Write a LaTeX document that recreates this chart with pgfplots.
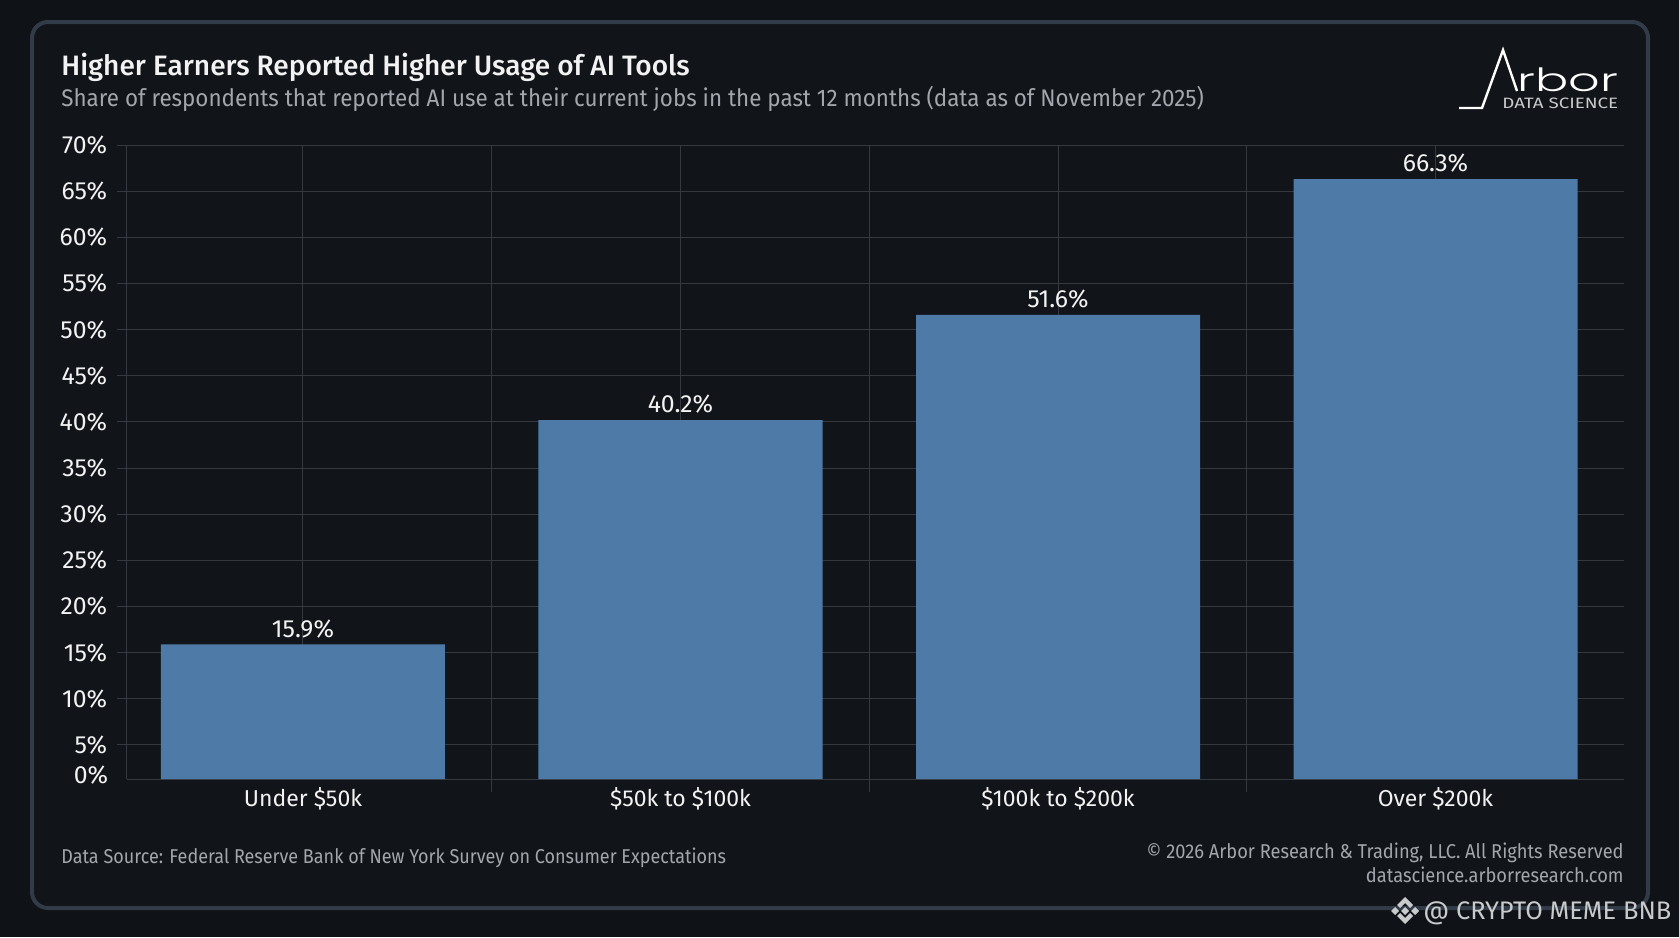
\documentclass[border=0pt]{standalone}
\usepackage{fontspec}
\usepackage{pgfplots}
\pgfplotsset{compat=1.18}
\setmainfont{Fira Sans}
\newfontfamily\titlefont{Fira Sans Medium}
\newfontfamily\subfont[FakeStretch=0.933]{Fira Sans}
\newfontfamily\footfont[FakeStretch=0.9]{Fira Sans}
\newfontfamily\footright[FakeStretch=0.913]{Fira Sans}
\newfontfamily\logofont[FakeStretch=1.54]{Poppins Light}
\newfontfamily\logosmall[FakeStretch=1.25]{Fira Sans}
\definecolor{bgout}{HTML}{0F1216}
\definecolor{bgin}{HTML}{111418}
\definecolor{panelc}{HTML}{323C48}
\definecolor{gridc}{HTML}{35383E}
\definecolor{barc}{HTML}{4E7AA8}
\definecolor{txt}{HTML}{F2F2F2}
\definecolor{subc}{HTML}{A3A7AD}
\definecolor{wmark}{HTML}{C9CACC}
\begin{document}
\begin{tikzpicture}[px/.style={x=0.5pt,y=-0.5pt}]
\begin{scope}[px]
  \useasboundingbox (0,0) rectangle (1679,937);
  \fill[bgout] (0,0) rectangle (1679,937);
  \draw[panelc,fill=bgin,line width=2pt,rounded corners=8pt] (32,22) rectangle (1648,908);
\end{scope}
\begin{axis}[
    at={(63.25pt,-389.5pt)},
    anchor=south west,
    scale only axis,
    width=748.5pt,
    height=317pt,
    ybar,
    bar width=142pt,
    xmin=-0.4675, xmax=3.498,
    ymin=1.3, ymax=70,
    axis x line=bottom,
    axis y line=left,
    axis line style={-,gridc,line width=0.5pt},
    xtick={0,1,2,3},
    xticklabels={Under \$50k, \$50k to \$100k, \$100k to \$200k, Over \$200k},
    minor xtick={0.5,1.5,2.5},
    ytick={5,10,...,70},
    yticklabels={5\%,10\%,15\%,20\%,25\%,30\%,35\%,40\%,45\%,50\%,55\%,60\%,65\%,70\%},
    extra y ticks={1.3},
    extra y tick labels={\raisebox{4pt}{0\%}},
    extra y tick style={major tick length=0pt,grid=none,yticklabel style={xshift=-4.5pt}},
    grid=both,
    grid style={gridc,line width=0.5pt},
    minor grid style={gridc,line width=0.5pt},
    major grid style={gridc,line width=0.5pt},
    tick style={gridc,line width=0.5pt},
    major x tick style={draw=none},
    major tick length=5pt,
    minor tick length=6.5pt,
    tick align=outside,
    every tick label/.append style={text=txt,font=\fontsize{12.4}{14}\selectfont},
    yticklabel style={inner sep=0pt,xshift=-4.5pt},
    xticklabel style={inner sep=0pt,yshift=0.7pt,font=\fontsize{11.5}{14}\selectfont},
    nodes near coords={\pgfmathprintnumber[fixed,fixed zerofill,precision=1,/pgf/number format/assume math mode=true]{\pgfplotspointmeta}\%},
    every node near coord/.append style={text=txt,font=\fontsize{12.4}{14}\selectfont,inner sep=0pt,yshift=3pt},
]
\addplot[fill=barc,draw=none,bar shift=0pt] coordinates {
  (0,15.9)
  (1,40.2)
  (2,51.6)
  (3,66.3)
};
\end{axis}
\begin{scope}[px]
  \node[anchor=base west,inner sep=0,text=txt,font=\titlefont\fontsize{14.03}{16}\selectfont] at (61,75) {Higher Earners Reported Higher Usage of AI Tools};
  \node[anchor=base west,inner sep=0,text=subc,font=\subfont\fontsize{12}{14}\selectfont] at (61,106) {Share of respondents that reported AI use at their current jobs in the past 12 months (data as of November 2025)};
  \node[anchor=base west,inner sep=0,text=subc,font=\footfont\fontsize{10}{12}\selectfont] at (61,863) {Data Source: Federal Reserve Bank of New York Survey on Consumer Expectations};
  \node[anchor=base east,inner sep=0,text=subc,font=\footright\fontsize{10}{12}\selectfont] at (1624,858) {\textcopyright{} 2026 Arbor Research \& Trading, LLC. All Rights Reserved};
  \node[anchor=base east,inner sep=0,text=subc,font=\footright\fontsize{10}{12}\selectfont] at (1624,882) {datascience.arborresearch.com};
  % logo
  \draw[white,line width=1.2pt,line join=miter] (1459,108) -- (1482,108) -- (1503,50) -- (1517,91);
  \node[anchor=base west,inner sep=0,text=white,font=\logofont\fontsize{16}{18}\selectfont] at (1517,91) {rbor};
  \node[anchor=base west,inner sep=0,text=wmark,font=\logosmall\fontsize{7.5}{9}\selectfont] at (1502,108) {DATA SCIENCE};
  % watermark
  \fill[wmark] (1405,897) -- (1413,905) -- (1410,908) -- (1405,903) -- (1400,908) -- (1397,905) -- cycle;
  \fill[wmark] (1405,924) -- (1413,916) -- (1410,913) -- (1405,918) -- (1400,913) -- (1397,916) -- cycle;
  \fill[wmark] (1405,907) -- (1409,911) -- (1405,915) -- (1401,911) -- cycle;
  \fill[wmark] (1395,907) -- (1399,911) -- (1395,915) -- (1391,911) -- cycle;
  \fill[wmark] (1415,907) -- (1419,911) -- (1415,915) -- (1411,911) -- cycle;
  \node[anchor=base west,inner sep=0,text=wmark,font=\fontsize{12.7}{14}\selectfont] at (1423,919) {@ CRYPTO MEME BNB};
\end{scope}
\end{tikzpicture}
\end{document}
